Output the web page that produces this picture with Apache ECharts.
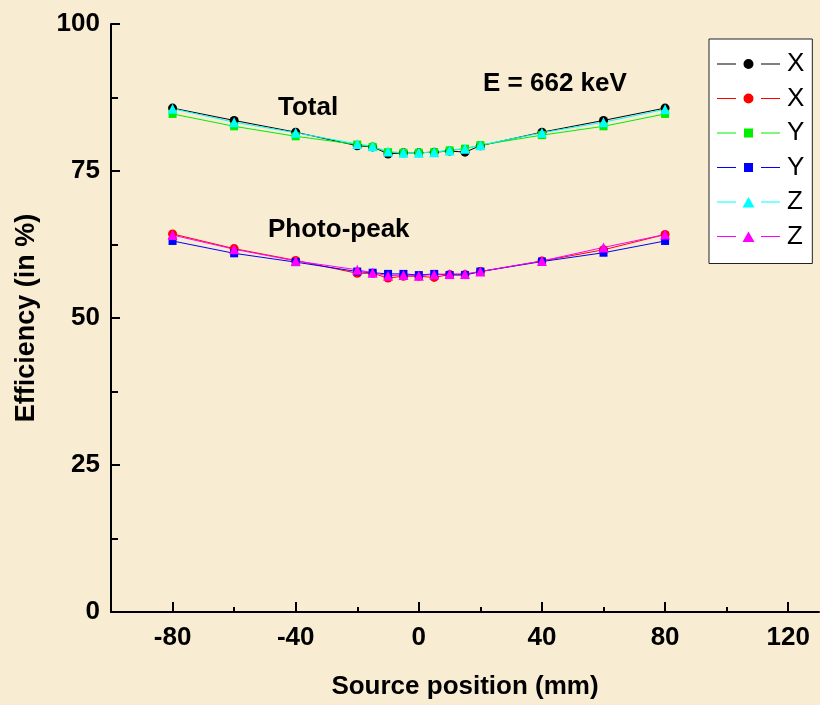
<!DOCTYPE html>
<html>
<head>
<meta charset="utf-8">
<title>Detection efficiency vs source position</title>
<script src="https://cdn.jsdelivr.net/npm/echarts@6/dist/echarts.min.js"></script>
<style>
  html, body { margin: 0; padding: 0; background: #f8ecd3; }
  #chart { width: 820px; height: 705px; }
</style>
</head>
<body>
<div id="chart"></div>
<script>
// Source positions along the axis (mm)
var positions = [-80, -60, -40, -20, -15, -10, -5, 0, 5, 10, 15, 20, 40, 60, 80];

// Total efficiency (%) for scans along X, Y, Z
var totalX = [85.7, 83.6, 81.6, 79.3, 79.1, 77.9, 78.1, 78.1, 78.2, 78.4, 78.2, 79.3, 81.6, 83.6, 85.7];
var totalY = [84.7, 82.6, 80.9, 79.5, 79.1, 78.2, 78.1, 78.1, 78.2, 78.5, 78.8, 79.4, 81.1, 82.6, 84.7];
var totalZ = [85.6, 83.3, 81.5, 79.6, 79.2, 78.3, 78.1, 78.1, 78.2, 78.5, 78.8, 79.4, 81.5, 83.3, 85.5];

// Photo-peak efficiency (%) for scans along X, Y, Z
var peakX = [64.3, 61.8, 59.8, 57.6, 57.6, 56.8, 57.1, 57.1, 56.9, 57.4, 57.4, 57.9, 59.7, 61.6, 64.2];
var peakY = [63.1, 61.0, 59.5, 57.9, 57.7, 57.5, 57.5, 57.3, 57.5, 57.3, 57.3, 57.9, 59.6, 61.1, 63.1];
var peakZ = [64.1, 61.7, 59.7, 58.2, 57.7, 57.2, 57.3, 57.2, 57.4, 57.5, 57.5, 57.9, 59.7, 62.0, 64.2];

// Axis ticks
var xMajorTicks = [-80, -40, 0, 40, 80, 120];
var xMinorTicks = [-60, -20, 20, 60, 100];

var FONT = '"Liberation Sans", Arial, Helvetica, sans-serif';

// Legend glyphs: short line, marker, short line (63 x 12 box)
var BOX = 'M0,0M63,12';
var LINES = 'M0,5.5H19V6.5H0Z M44,5.5H63V6.5H44Z';
var ICON_CIRCLE = 'path://' + BOX + LINES + ' M26.5,6A5,5 0 1,1 36.5,6A5,5 0 1,1 26.5,6Z';
var ICON_SQUARE = 'path://' + BOX + LINES + ' M27,1.5H36V10.5H27Z';
var ICON_TRIANGLE = 'path://' + BOX + LINES + ' M31.5,1L37.5,11.5H25.5Z';

function pairs(ys) {
  return positions.map(function (x, i) { return [x, ys[i]]; });
}

function makeSeries(name, ys, color, symbol, size) {
  return {
    name: name,
    type: 'line',
    xAxisIndex: 0,
    yAxisIndex: 0,
    data: pairs(ys),
    symbol: symbol,
    symbolSize: size,
    showAllSymbol: true,
    animation: false,
    lineStyle: { color: color, width: 1 },
    itemStyle: { color: color },
    emphasis: { disabled: true }
  };
}

var series = [
  makeSeries('X total', totalX, '#000000', 'circle', 9),
  makeSeries('X peak', peakX, '#ff0000', 'circle', 9),
  makeSeries('Y total', totalY, '#00ee00', 'rect', 8),
  makeSeries('Y peak', peakY, '#0000ff', 'rect', 8),
  makeSeries('Z total', totalZ, '#00ffff', 'triangle', 10),
  makeSeries('Z peak', peakZ, '#ff00ff', 'triangle', 10)
];

var chart = echarts.init(document.getElementById('chart'), null, { renderer: 'canvas' });

chart.setOption({
  backgroundColor: '#f8ecd3',
  animation: false,
  textStyle: { fontFamily: FONT },
  grid: { left: 111, right: 1, top: 24, bottom: 91, containLabel: false },
  xAxis: [
    {
      type: 'value',
      min: -100,
      max: 130,
      position: 'bottom',
      name: 'Source position (mm)',
      nameLocation: 'middle',
      nameGap: 62,
      nameTextStyle: { fontFamily: FONT, fontSize: 26, fontWeight: 'bold', color: '#000' },
      axisLine: { show: true, onZero: false, lineStyle: { color: '#000', width: 2 } },
      axisTick: { show: true, inside: true, length: 10, customValues: xMajorTicks, lineStyle: { color: '#000', width: 2 } },
      axisLabel: { show: true, customValues: xMajorTicks, margin: 13, fontFamily: FONT, fontSize: 26, fontWeight: 'bold', color: '#000' },
      splitLine: { show: false }
    },
    {
      type: 'value',
      min: -100,
      max: 130,
      position: 'bottom',
      axisLine: { show: false },
      axisTick: { show: true, inside: true, length: 5, customValues: xMinorTicks, lineStyle: { color: '#000', width: 2 } },
      axisLabel: { show: false, customValues: xMinorTicks },
      splitLine: { show: false }
    }
  ],
  yAxis: {
    type: 'value',
    min: 0,
    max: 100,
    interval: 25,
    name: 'Efficiency (in %)',
    nameLocation: 'middle',
    nameGap: 71,
    nameTextStyle: { fontFamily: FONT, fontSize: 27, fontWeight: 'bold', color: '#000' },
    axisLine: { show: true, onZero: false, lineStyle: { color: '#000', width: 2 } },
    axisTick: { show: true, inside: true, length: 9, lineStyle: { color: '#000', width: 2 } },
    minorTick: { show: true, splitNumber: 2, length: 7, lineStyle: { color: '#000', width: 2 } },
    axisLabel: { margin: 11, fontFamily: FONT, fontSize: 26, fontWeight: 'bold', color: '#000' },
    splitLine: { show: false },
    minorSplitLine: { show: false }
  },
  legend: {
    orient: 'vertical',
    left: 709,
    top: 39,
    padding: [12, 8, 14, 8],
    itemWidth: 63,
    itemHeight: 12,
    itemGap: 8.5,
    selectedMode: false,
    backgroundColor: '#ffffff',
    borderColor: '#222222',
    borderWidth: 1,
    borderRadius: 0,
    textStyle: { fontFamily: FONT, fontSize: 26, lineHeight: 26, color: '#000', padding: [0, 0, 0, 2] },
    formatter: function (name) { return name.charAt(0); },
    data: [
      { name: 'X total', icon: ICON_CIRCLE },
      { name: 'X peak', icon: ICON_CIRCLE },
      { name: 'Y total', icon: ICON_SQUARE },
      { name: 'Y peak', icon: ICON_SQUARE },
      { name: 'Z total', icon: ICON_TRIANGLE },
      { name: 'Z peak', icon: ICON_TRIANGLE }
    ]
  },
  graphic: [
    {
      type: 'text', left: 278, top: 95,
      style: { text: 'Total', font: 'bold 26px ' + FONT, fill: '#000' }
    },
    {
      type: 'text', left: 268, top: 217,
      style: { text: 'Photo-peak', font: 'bold 26px ' + FONT, fill: '#000' }
    },
    {
      type: 'text', left: 483, top: 71,
      style: { text: 'E = 662 keV', font: 'bold 26px ' + FONT, fill: '#000' }
    }
  ],
  series: series
});
</script>
</body>
</html>
